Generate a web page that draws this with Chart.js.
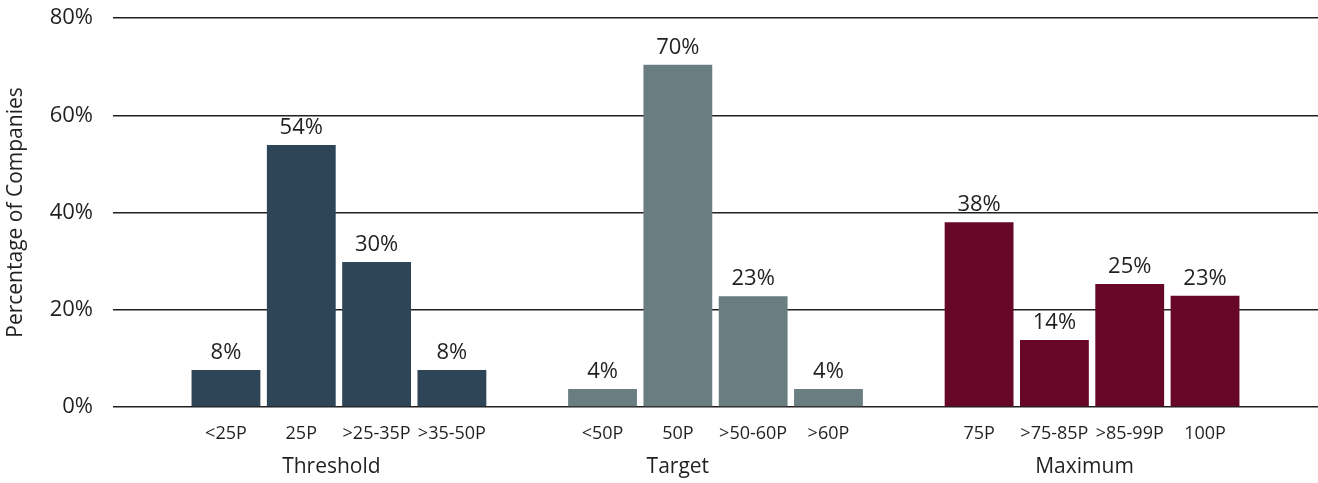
<!DOCTYPE html>
<html>
<head>
<meta charset="utf-8">
<script src="https://cdn.jsdelivr.net/npm/chart.js@4.4.1/dist/chart.umd.min.js"></script>
<style>
  html, body { margin: 0; padding: 0; background: #fff; }
  #wrap { width: 1318px; height: 483px; position: relative; }
</style>
</head>
<body>
<div id="wrap"><canvas id="c"></canvas></div>
<script>
// categories (empty strings are spacer slots between groups)
const categories = ["", "<25P", "25P", ">25-35P", ">35-50P", "", "<50P", "50P", ">50-60P", ">60P", "", "75P", ">75-85P", ">85-99P", "100P", ""];

// values in %
const thresholdValues = [null, 7.6, 53.9, 29.8, 7.6, null, null, null, null, null, null, null, null, null, null, null];
const targetValues    = [null, null, null, null, null, null, 3.7, 70.4, 22.8, 3.7, null, null, null, null, null, null];
const maximumValues   = [null, null, null, null, null, null, null, null, null, null, null, 38.0, 13.8, 25.3, 22.9, null];

const groupNames = ["Threshold", "Target", "Maximum"];
const groupLabelPos = [2.4, 7.0, 12.4];

const yTicks = [0, 20, 40, 60, 80];
const yTitle = "Percentage of Companies";

const TEXT = "#231f20";
const FONT = "'Open Sans', 'DejaVu Sans', sans-serif";

// value labels above bars
const valueLabels = {
  id: "valueLabels",
  afterDatasetsDraw(chart) {
    const ctx = chart.ctx;
    ctx.save();
    ctx.fillStyle = TEXT;
    ctx.font = "22px " + FONT;
    ctx.textAlign = "center";
    ctx.textBaseline = "middle";
    chart.data.datasets.forEach((ds, i) => {
      const meta = chart.getDatasetMeta(i);
      meta.data.forEach((bar, j) => {
        const v = ds.data[j];
        if (v == null) return;
        ctx.fillText(Math.round(v) + "%", bar.x, bar.y - 17);
      });
    });
    ctx.restore();
  }
};

// group names under the category labels
const groupLabels = {
  id: "groupLabels",
  afterDraw(chart) {
    const ctx = chart.ctx;
    const x = chart.scales.x;
    ctx.save();
    ctx.fillStyle = TEXT;
    ctx.font = "21px " + FONT;
    ctx.textAlign = "center";
    ctx.textBaseline = "middle";
    groupNames.forEach((name, i) => {
      ctx.fillText(name, x.getPixelForValue(groupLabelPos[i]), 467);
    });
    ctx.restore();
  }
};

function ds(data, color) {
  return {
    data: data,
    backgroundColor: color,
    borderWidth: 0,
    barPercentage: 0.914,
    categoryPercentage: 1,
    grouped: false
  };
}

new Chart(document.getElementById("c"), {
  type: "bar",
  data: {
    labels: categories,
    datasets: [
      ds(thresholdValues, "#2e4457"),
      ds(targetValues, "#6a7e82"),
      ds(maximumValues, "#660727")
    ]
  },
  options: {
    responsive: true,
    maintainAspectRatio: false,
    animation: false,
    layout: { padding: { top: 18, right: 0, left: 0, bottom: 0 } },
    plugins: {
      legend: { display: false },
      tooltip: { enabled: false }
    },
    scales: {
      x: {
        grid: { display: false },
        border: { display: false },
        ticks: {
          color: TEXT,
          font: { family: FONT, size: 18 },
          padding: 8,
          maxRotation: 0,
          autoSkip: false
        },
        afterFit(scale) { scale.height = 76; }
      },
      y: {
        min: 0,
        max: 80,
        afterBuildTicks(scale) { scale.ticks = yTicks.map(v => ({ value: v })); },
        grid: { color: TEXT, lineWidth: 1.5, drawTicks: false },
        border: { display: false },
        ticks: {
          color: TEXT,
          font: { family: FONT, size: 22 },
          padding: 20,
          callback: v => v + "%"
        },
        title: {
          display: true,
          text: yTitle,
          color: TEXT,
          font: { family: FONT, size: 21 },
          padding: { top: 3, bottom: 0 }
        },
        afterFit(scale) {
          scale.width = 113;
          scale.paddingTop = 0;
          scale.paddingBottom = 0;
        }
      }
    }
  },
  plugins: [valueLabels, groupLabels]
});
</script>
</body>
</html>
